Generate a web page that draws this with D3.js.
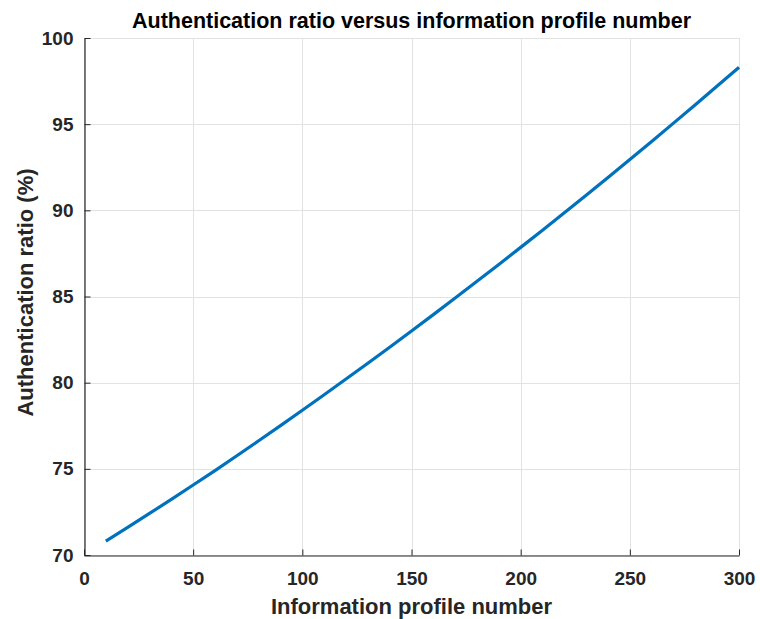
<!DOCTYPE html>
<html>
<head>
<meta charset="utf-8">
<script src="https://cdn.jsdelivr.net/npm/d3@7"></script>
<style>
  body { margin: 0; background: #fff; }
  svg { font-family: 'Liberation Sans', Arial, sans-serif; }
</style>
</head>
<body>
<div id="chart"></div>
<script>
// profile number (x) and authentication ratio in % (y)
const profileNumbers = [10, 20, 30, 40, 50, 60, 70, 80, 90, 100, 110, 120, 130, 140, 150,
  160, 170, 180, 190, 200, 210, 220, 230, 240, 250, 260, 270, 280, 290, 300];
const authRatio = [70.8, 71.6, 72.41, 73.23, 74.06, 74.9, 75.76, 76.63, 77.51, 78.4, 79.3,
  80.21, 81.13, 82.06, 83.0, 83.95, 84.91, 85.88, 86.86, 87.85, 88.85, 89.86, 90.88, 91.91,
  92.95, 94.0, 95.06, 96.13, 97.21, 98.3];
const xTicks = [0, 50, 100, 150, 200, 250, 300];
const yTicks = [70, 75, 80, 85, 90, 95, 100];

const width = 760;
const height = 619;
const margin = { t: 38, r: 21, b: 64, l: 84 };

const svg = d3.select('#chart')
  .append('svg')
  .attr('width', width)
  .attr('height', height);

const x = d3.scaleLinear().domain([0, 300]).range([margin.l, width - margin.r]);
const y = d3.scaleLinear().domain([70, 100]).range([height - margin.b, margin.t]);

// grid
const grid = svg.append('g').attr('stroke', '#e2e2e2').attr('stroke-width', 1);
grid.selectAll('.gx')
  .data(xTicks)
  .join('line')
  .attr('x1', (d) => Math.round(x(d)) + 0.5)
  .attr('x2', (d) => Math.round(x(d)) + 0.5)
  .attr('y1', y(70))
  .attr('y2', y(100));
grid.selectAll('.gy')
  .data(yTicks)
  .join('line')
  .attr('x1', x(0))
  .attr('x2', x(300))
  .attr('y1', (d) => Math.round(y(d)) + 0.5)
  .attr('y2', (d) => Math.round(y(d)) + 0.5);

// axes (ticks point inwards like matlab)
const xAxis = d3.axisBottom(x).tickValues(xTicks).tickSizeInner(-6).tickSizeOuter(0).tickPadding(16);
const yAxis = d3.axisLeft(y).tickValues(yTicks).tickSizeInner(-6).tickSizeOuter(0).tickPadding(11);

const gx = svg.append('g')
  .attr('transform', `translate(0, ${Math.round(y(70)) + 0.5})`)
  .call(xAxis);
const gy = svg.append('g')
  .attr('transform', `translate(${Math.round(x(0)) + 0.5}, 0)`)
  .call(yAxis);

[gx, gy].forEach((g) => {
  g.select('.domain').attr('stroke', '#262626').attr('stroke-width', 1.2);
  g.selectAll('.tick line').attr('stroke', '#262626');
  g.selectAll('.tick text')
    .attr('fill', '#262626')
    .style('font-size', '19px')
    .style('font-weight', 'bold')
    .style('font-family', "'Liberation Sans', Arial, sans-serif");
});
gx.selectAll('.tick text').attr('dy', '0.71em');

// curve
const line = d3.line()
  .x((d, i) => x(profileNumbers[i]))
  .y((d) => y(d))
  .curve(d3.curveMonotoneX);

svg.append('path')
  .datum(authRatio)
  .attr('d', line)
  .attr('fill', 'none')
  .attr('stroke', '#0072BD')
  .attr('stroke-width', 3.2);

// title and labels
svg.append('text')
  .attr('x', (x(0) + x(300)) / 2)
  .attr('y', 28)
  .attr('text-anchor', 'middle')
  .attr('fill', '#000')
  .style('font-size', '21.5px')
  .style('font-weight', 'bold')
  .text('Authentication ratio versus information profile number');

svg.append('text')
  .attr('x', (x(0) + x(300)) / 2)
  .attr('y', 614)
  .attr('text-anchor', 'middle')
  .attr('fill', '#262626')
  .style('font-size', '22px')
  .style('font-weight', 'bold')
  .text('Information profile number');

svg.append('text')
  .attr('transform', `translate(33, ${(y(70) + y(100)) / 2 - 4}) rotate(-90)`)
  .attr('text-anchor', 'middle')
  .attr('fill', '#262626')
  .style('font-size', '22px')
  .style('font-weight', 'bold')
  .text('Authentication ratio (%)');
</script>
</body>
</html>
